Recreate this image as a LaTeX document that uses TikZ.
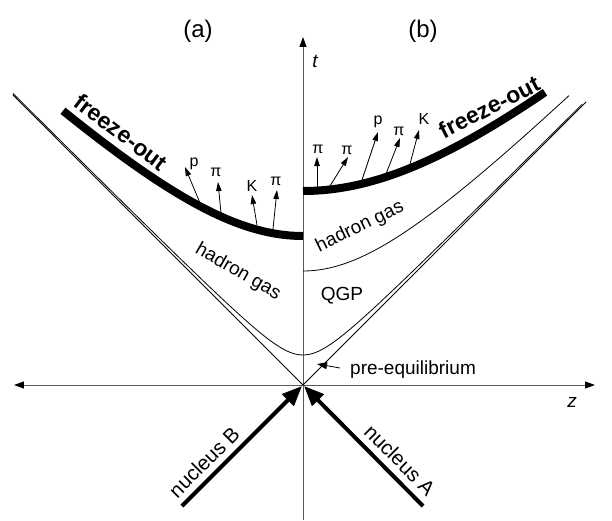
\documentclass[tikz,border=0pt]{standalone}
\usepackage{fontspec}
\setmainfont{Liberation Sans}
\usetikzlibrary{arrows.meta}
\begin{document}
\begin{tikzpicture}[x=1pt,y=1pt,
  axisline/.style={line width=1pt, draw=black!65},
  thinline/.style={line width=0.8pt, draw=black},
  freeze/.style={line width=8pt, draw=black},
  emit/.style={line width=0.8pt, -{Triangle[length=9pt,width=5.5pt]}},
  nucl/.style={line width=4pt, -{Triangle[length=20pt,width=16pt]}},
  pearrow/.style={line width=0.8pt, -{Triangle[length=10pt,width=7pt]}},
  lbl/.style={font=\fontsize{19}{21}\selectfont, inner sep=0pt},
  nlbl/.style={font=\fontsize{20.5}{22}\selectfont, inner sep=0pt},
  plbl/.style={font=\fontsize{16}{18}\selectfont, inner sep=0pt},
  biglbl/.style={font=\fontsize{24}{26}\selectfont, inner sep=0pt},
  fo/.style={font=\bfseries\fontsize{23}{25}\selectfont, inner sep=0pt},
  axlbl/.style={font=\itshape\fontsize{19}{21}\selectfont, inner sep=0pt}
]
\useasboundingbox (-303,-135) rectangle (309,385);

% coordinates
\coordinate (O) at (0,0);
\coordinate (zL) at (-289,0);
\coordinate (zR) at (292,0);
\coordinate (tB) at (0,-135);
\coordinate (tT) at (0,348);
\coordinate (cL) at (-290,290);
\coordinate (cR) at (283,283);

% axes
\draw[axisline, {Triangle[length=10pt,width=7pt,color=black]}-{Triangle[length=10pt,width=7pt,color=black]}] (zL) -- (zR);
\draw[axisline, -{Triangle[length=10pt,width=7pt,color=black]}] (tB) -- (tT);

% light cone
\draw[thinline] (cL) -- (O) -- (cR);

% pre-equilibrium hyperbola
\draw[thinline] plot[domain=-290:279, samples=160, smooth] (\x, {10*sqrt(9+(\x/10)*(\x/10))});

% hadronization hyperbola (b)
\draw[thinline] plot[domain=0:266, samples=80, smooth] (\x, {10*sqrt(11.4*11.4+(\x/10)*(\x/10))});

% freeze-out curves
\draw[freeze] plot[domain=-240:0, samples=80, smooth] (\x, {10*sqrt(14.9*14.9+0.92*(\x/10)*(\x/10))});
\draw[freeze] plot[domain=0:242, samples=80, smooth] (\x, {10*sqrt(19.4*19.4+0.82*(\x/10)*(\x/10))});

% emitted particles (a)
\coordinate (a1b) at (-103,182); \coordinate (a1t) at (-118,218);
\coordinate (a2b) at (-82,172);  \coordinate (a2t) at (-85,203);
\coordinate (a3b) at (-46,160);  \coordinate (a3t) at (-51,190);
\coordinate (a4b) at (-30,156);  \coordinate (a4t) at (-26,195);
\draw[emit] (a1b) -- (a1t);
\draw[emit] (a2b) -- (a2t);
\draw[emit] (a3b) -- (a3t);
\draw[emit] (a4b) -- (a4t);
\node[plbl] (pa1) at (-109,221) {p};
\node[plbl] (pa2) at (-87,213) {π};
\node[plbl] (pa3) at (-51,199) {K};
\node[plbl] (pa4) at (-27,204) {π};

% emitted particles (b)
\coordinate (b1b) at (14,198);  \coordinate (b1t) at (14,228);
\coordinate (b2b) at (27,199);  \coordinate (b2t) at (45,228);
\coordinate (b3b) at (59,205);  \coordinate (b3t) at (75,253);
\coordinate (b4b) at (83,211);  \coordinate (b4t) at (97,247);
\coordinate (b5b) at (107,221); \coordinate (b5t) at (116,255);
\draw[emit] (b1b) -- (b1t);
\draw[emit] (b2b) -- (b2t);
\draw[emit] (b3b) -- (b3t);
\draw[emit] (b4b) -- (b4t);
\draw[emit] (b5b) -- (b5t);
\node[plbl] (pb1) at (15,236) {π};
\node[plbl] (pb2) at (44,235) {π};
\node[plbl] (pb3) at (75,263) {p};
\node[plbl] (pb4) at (96,254) {π};
\node[plbl] (pb5) at (121,266) {K};

% nuclei
\coordinate (nBs) at (-121,-121);
\coordinate (nAs) at (120,-121);
\coordinate (nBe) at (-1,-1);
\coordinate (nAe) at (1,-1);
\draw[nucl] (nBs) -- (nBe);
\draw[nucl] (nAs) -- (nAe);

% labels
\node[biglbl] (la) at (-105,354) {(a)};
\node[biglbl] (lb) at (120,354) {(b)};
\node[axlbl] (lt) at (12,324) {t};
\node[axlbl] (lz) at (269,-17) {z};
\node[fo, rotate=-37] (foa) at (-182,253) {freeze-out};
\node[fo, rotate=27] (fob) at (186,278) {freeze-out};
\node[lbl, rotate=-30] (hga) at (-65,113) {hadron gas};
\node[lbl, rotate=26] (hgb) at (57,158) {hadron gas};
\node[lbl] (qgp) at (39,89) {QGP};
\node[lbl, anchor=west] (pe) at (47,15) {pre-equilibrium};
\node[nlbl, rotate=45] (nb) at (-99,-77) {nucleus B};
\node[nlbl, rotate=-45] (na) at (97,-75) {nucleus A};

% pre-equilibrium pointer
\coordinate (peTip) at (14,21);
\draw[pearrow] ([xshift=-10pt,yshift=2pt]pe.west) -- (peTip);
\end{tikzpicture}
\end{document}
